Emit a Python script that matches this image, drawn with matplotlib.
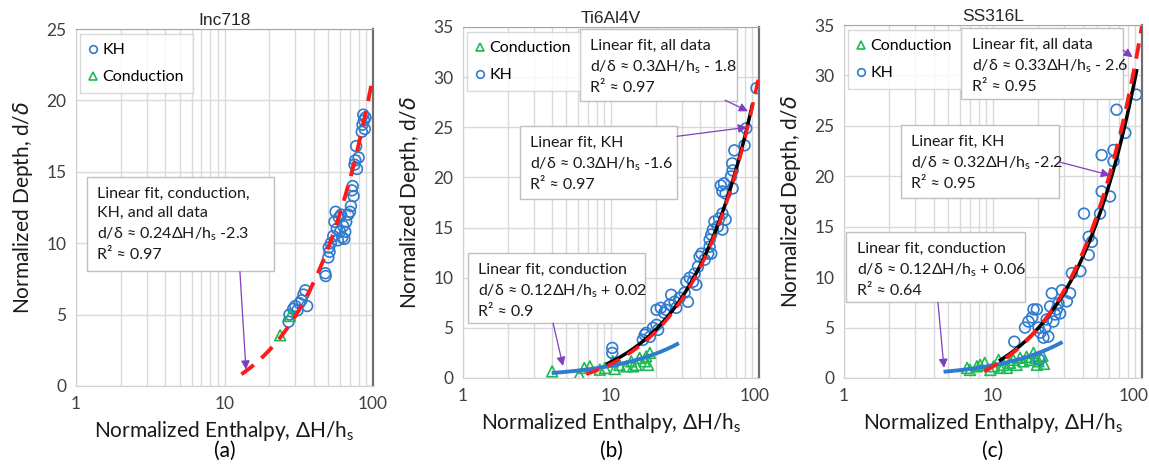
import numpy as np
import matplotlib
matplotlib.use("Agg")
import matplotlib.pyplot as plt
from matplotlib.patches import Rectangle
from matplotlib.lines import Line2D
import matplotlib.transforms as mtransforms

plt.rcParams['font.family'] = ['Lato', 'DejaVu Sans']
plt.rcParams['mathtext.default'] = 'regular'

# ---------------- data ----------------
# Panel (a) Inc718
a_kh_x = [27.0, 27.4, 29, 30, 31, 32, 33, 34, 35, 36, 47.7, 48, 50, 50.3, 51, 52, 54, 55, 56, 57,
          58, 59, 60, 61, 62, 63, 64, 65, 66, 68, 70, 71, 72, 73, 74, 75, 76, 77, 78, 80,
          84, 85, 86, 87, 88, 89]
a_kh_y = [4.5, 5.0, 5.4, 5.6, 5.3, 5.8, 6.0, 6.4, 6.7, 5.6, 7.9, 7.7, 9.0, 9.7, 9.4, 10.0, 10.5, 11.5, 12.2, 11.0,
          10.2, 11.8, 10.8, 12.0, 10.4, 11.2, 10.3, 10.8, 11.5, 12.0, 12.2, 12.6, 13.7, 14.0, 13.3, 15.5, 15.8, 16.8, 15.2, 16.0,
          17.8, 18.3, 19.0, 18.6, 18.0, 18.8]
a_cond_x = [23.7, 27.6]
a_cond_y = [3.55, 4.9]
a_fit_all = (0.24, -2.3, 13.0, 100.0)     # slope, intercept, x start, x end

# Panel (b) Ti6Al4V
b_cond_x = [4.0, 6.1, 6.6, 7.2, 8.4, 9.1, 10.3, 10.6, 11.4, 12.7, 13.7, 14.1, 14.8, 15.6, 16.9, 17.3, 18.3, 17.8]
b_cond_y = [0.66, 0.33, 1.0, 1.16, 0.83, 1.0, 1.66, 0.9, 1.3, 1.16, 1.66, 1.16, 1.3, 2.0, 1.66, 2.16, 2.5, 1.3]
b_kh_x = [10.2, 10.2, 16.4, 16.9, 17.3, 18.3, 19.2, 20.3, 20.8, 20.3, 21.7, 22.9, 23.5, 24.9, 25.5, 26.9, 27.6,
          29.1, 31.4, 32.3, 33.1, 34.0, 35.8, 36.7, 37.7, 38.7, 39.7, 40.8, 43.0, 45.3, 46.4, 47.6, 46.4, 47.6,
          48.8, 50.0, 52.6, 53.8, 56.6, 59.5, 56.6, 55.2, 56.6, 58.0, 59.5, 64.7, 66.4, 65.9, 66.4, 68.1,
          79.9, 82.0, 96.2]
b_kh_y = [2.5, 3.0, 3.8, 4.3, 4.5, 4.1, 5.0, 5.3, 4.8, 6.8, 7.0, 6.5, 6.8, 7.3, 8.3, 7.6, 7.0,
          8.0, 8.5, 9.6, 7.6, 10.0, 9.6, 10.4, 9.3, 11.1, 12.1, 12.4, 11.8, 12.4, 13.1, 12.4, 13.8, 14.3,
          14.8, 15.6, 15.1, 15.9, 16.4, 15.8, 14.8, 19.2, 18.6, 19.4, 18.4, 20.1, 20.7, 21.4, 18.9, 22.7,
          23.2, 24.9, 28.9]
b_fit_cond = (0.12, 0.02, 4.1, 28.0)
b_fit_kh = (0.32, -1.6, 9.5, 90.0)
b_fit_all = (0.32, -1.8, 6.8, 101.0)

# Panel (c) SS316L
c_cond_x = [6.7, 7.0, 7.8, 8.2, 8.8, 9.6, 10.1, 10.9, 11.2, 11.8, 12.4, 13.0, 13.7, 14.4, 15.2, 16.0,
            16.8, 17.7, 18.7, 19.2, 20.2, 19.7, 21.5, 22.0]
c_cond_y = [1.0, 0.8, 1.16, 1.3, 1.5, 0.8, 1.16, 1.8, 1.0, 1.3, 1.0, 1.5, 1.8, 1.3, 2.0, 1.65,
            2.1, 1.8, 2.5, 2.0, 1.65, 1.3, 2.2, 1.4]
c_kh_x = [13.9, 16.4, 17.3, 18.3, 18.7, 19.7, 20.2, 20.8, 20.5, 21.8, 22.4, 22.9, 23.5, 24.2, 24.8, 25.4,
          26.1, 26.8, 27.5, 28.2, 29.0, 31.3, 32.9, 33.8, 38.6, 40.8, 43.9, 43.9, 46.1, 52.3, 53.6, 61.0,
          53.6, 64.4, 64.4, 77.3, 67.5, 91.5]
c_kh_y = [3.6, 5.0, 5.6, 6.0, 6.8, 6.8, 5.0, 4.5, 1.8, 4.0, 5.0, 5.8, 4.1, 7.1, 8.4, 5.6,
          6.3, 6.8, 7.4, 6.4, 8.7, 7.6, 8.4, 10.4, 10.6, 16.3, 12.2, 14.0, 13.5, 16.3, 18.5, 18.0,
          22.1, 22.6, 21.5, 24.3, 26.6, 28.1]
c_fit_cond = (0.12, 0.06, 4.8, 28.5)
c_fit_kh = (0.355, -2.2, 11.2, 92.0)
c_fit_all = (0.375, -2.6, 8.7, 100.0)

titles = ["Inc718", "Ti6Al4V", "SS316L"]
panel_labels = ["(a)", "(b)", "(c)"]
y_max = [25, 35, 35]

# ---------------- style ----------------
BLUE = '#2E7BCF'
GREEN = '#1DB954'
RED = '#FF1A1A'
PURPLE = '#7F3FBF'
GRID = '#D9D9D9'

fig = plt.figure(figsize=(11.49, 4.65), dpi=100)
W, H = 1149, 465
ax_px = [(76, 373, 29, 386), (463, 759, 27, 378), (844, 1142, 25, 378)]
axes = []
for (l, r, t, b) in ax_px:
    ax = fig.add_axes([l / W, 1 - b / H, (r - l) / W, (b - t) / H])
    axes.append(ax)


def style_axis(ax, ymax, title, plabel, last_shift):
    ax.set_xscale('log')
    ax.set_xlim(1, 100)
    ax.set_ylim(0, ymax)
    ax.set_yticks(np.arange(0, ymax + 1, 5))
    ax.set_xticks([1, 10, 100])
    ax.set_xticklabels(['1', '10', '100'])
    ax.xaxis.set_minor_locator(matplotlib.ticker.LogLocator(base=10, subs=np.arange(2, 10)))
    ax.xaxis.set_minor_formatter(matplotlib.ticker.NullFormatter())
    ax.grid(True, which='both', axis='x', color=GRID, lw=1.0)
    ax.grid(True, which='major', axis='y', color=GRID, lw=1.0)
    ax.set_axisbelow(True)
    ax.tick_params(which='both', length=0, labelsize=12.5, colors='#404040', pad=7)
    lab = ax.get_xticklabels()[-1]
    lab.set_transform(lab.get_transform() +
                      mtransforms.ScaledTranslation(last_shift / 100, 0, fig.dpi_scale_trans))
    for side in ['left', 'bottom']:
        ax.spines[side].set_color('#D0D0D0')
    ax.spines['top'].set_color('#A6A6A6')
    ax.spines['right'].set_color('#6E6E6E')
    ax.spines['right'].set_linewidth(1.6)
    ax.set_title(title, fontsize=12.5, pad=3, family=['Liberation Sans', 'DejaVu Sans'], color='#262626')
    ax.set_xlabel('Normalized Enthalpy, ΔH/h$_{s}$', fontsize=15, labelpad=5, color='#1a1a1a')
    ax.set_ylabel('Normalized Depth, d/$\\mathit{\\delta}$', fontsize=15, labelpad=8, color='#1a1a1a')
    bb = ax.get_position()
    fig.text((bb.x0 + bb.x1) / 2, 1 - 451 / H, plabel, ha='center', va='center', fontsize=15)


def fit_line(ax, fit, **kw):
    m, c, x0, x1 = fit
    xs = np.logspace(np.log10(x0), np.log10(x1), 200)
    ax.plot(xs, m * xs + c, **kw)


def textbox(ax, x0, x1, y0, y1, lines, tx_off=0.035):
    ax.add_patch(Rectangle((x0, y0), x1 - x0, y1 - y0, transform=ax.transAxes,
                           facecolor='white', edgecolor='#BFBFBF', lw=1.0, zorder=6))
    ax.text(x0 + tx_off, y1 - 0.028, "\n".join(lines), transform=ax.transAxes,
            ha='left', va='top', fontsize=11.5, linespacing=1.45, zorder=7, color='#1a1a1a')


def arrow(ax, tail, head):
    ax.annotate('', xy=head, xytext=tail, xycoords='data', textcoords='data',
                arrowprops=dict(arrowstyle='-|>', color=PURPLE, lw=0.9,
                                mutation_scale=13, shrinkA=0, shrinkB=0), zorder=8)


def legend(ax, handles, labels):
    leg = ax.legend(handles, labels, loc='upper left', bbox_to_anchor=(0.012, 0.985),
                    frameon=True, fancybox=False, edgecolor='#D0D0D0', fontsize=11.5,
                    handlelength=0.6, handletextpad=0.3, labelspacing=0.8,
                    borderpad=0.55, borderaxespad=0.0)
    leg.get_frame().set_linewidth(1.0)
    leg.set_zorder(9)


kh_kw = dict(marker='o', s=60, facecolors='none', edgecolors=BLUE, linewidths=1.2, zorder=3)
cd_kw = dict(marker='^', s=60, facecolors='none', edgecolors=GREEN, linewidths=1.2, zorder=3)
kh_h = Line2D([], [], marker='o', ls='none', mfc='none', mec=BLUE, ms=5.5, mew=1.2)
cd_h = Line2D([], [], marker='^', ls='none', mfc='none', mec=GREEN, ms=5.5, mew=1.2)

# ---- (a)
ax = axes[0]
style_axis(ax, y_max[0], titles[0], panel_labels[0], 0)
ax.scatter(a_kh_x, a_kh_y, **kh_kw)
ax.scatter(a_cond_x, a_cond_y, **cd_kw)
fit_line(ax, a_fit_all, color=RED, lw=2.8, ls=(0, (4, 2.6)), zorder=4)
legend(ax, [kh_h, cd_h], ['KH', 'Conduction'])
textbox(ax, 0.037, 0.667, 0.322, 0.585,
        ['Linear fit, conduction,', 'KH, and all data',
         'd/δ ≈ 0.24ΔH/h$_{s}$ -2.3', 'R² ≈ 0.97'])
arrow(ax, (12.7, 8.0), (13.95, 1.15))

# ---- (b)
ax = axes[1]
style_axis(ax, y_max[1], titles[1], panel_labels[1], -4)
ax.scatter(b_cond_x, b_cond_y, **cd_kw)
ax.scatter(b_kh_x, b_kh_y, **kh_kw)
fit_line(ax, b_fit_cond, color=BLUE, lw=2.8, zorder=4)
fit_line(ax, b_fit_kh, color='black', lw=2.5, zorder=4)
fit_line(ax, b_fit_all, color=RED, lw=2.5, ls=(0, (4, 2.6)), zorder=5)
legend(ax, [cd_h, kh_h], ['Conduction', 'KH'])
textbox(ax, 0.395, 0.926, 0.789, 0.994,
        ['Linear fit, all data', 'd/δ ≈ 0.3ΔH/h$_{s}$ - 1.8', 'R² ≈ 0.97'])
textbox(ax, 0.193, 0.723, 0.510, 0.718,
        ['Linear fit, KH', 'd/δ ≈ 0.3ΔH/h$_{s}$ -1.6', 'R² ≈ 0.97'])
textbox(ax, 0.017, 0.615, 0.157, 0.356,
        ['Linear fit, conduction', 'd/δ ≈ 0.12ΔH/h$_{s}$ + 0.02', 'R² ≈ 0.9'])
arrow(ax, (59, 27.7), (84.3, 26.6))
arrow(ax, (27.9, 24.1), (83, 25.0))
arrow(ax, (4.06, 5.48), (4.74, 1.2))

# ---- (c)
ax = axes[2]
style_axis(ax, y_max[2], titles[2], panel_labels[2], -8)
ax.scatter(c_cond_x, c_cond_y, **cd_kw)
ax.scatter(c_kh_x, c_kh_y, **kh_kw)
fit_line(ax, c_fit_cond, color=BLUE, lw=2.8, zorder=4)
fit_line(ax, c_fit_kh, color='black', lw=2.5, zorder=4)
fit_line(ax, c_fit_all, color=RED, lw=2.8, ls=(0, (4, 2.6)), zorder=5)
legend(ax, [cd_h, kh_h], ['Conduction', 'KH'])
textbox(ax, 0.393, 0.936, 0.790, 0.991,
        ['Linear fit, all data', 'd/δ ≈ 0.33ΔH/h$_{s}$ - 2.6', 'R² ≈ 0.95'])
textbox(ax, 0.191, 0.721, 0.510, 0.717,
        ['Linear fit, KH', 'd/δ ≈ 0.32ΔH/h$_{s}$ -2.2', 'R² ≈ 0.95'])
textbox(ax, 0.007, 0.607, 0.215, 0.414,
        ['Linear fit, conduction', 'd/δ ≈ 0.12ΔH/h$_{s}$ + 0.06', 'R² ≈ 0.64'])
arrow(ax, (74.5, 32.5), (86.6, 31.8))
arrow(ax, (28.2, 21.4), (61, 20.1))
arrow(ax, (4.27, 7.5), (4.69, 1.0))

fig.savefig('out.png', dpi=100)
